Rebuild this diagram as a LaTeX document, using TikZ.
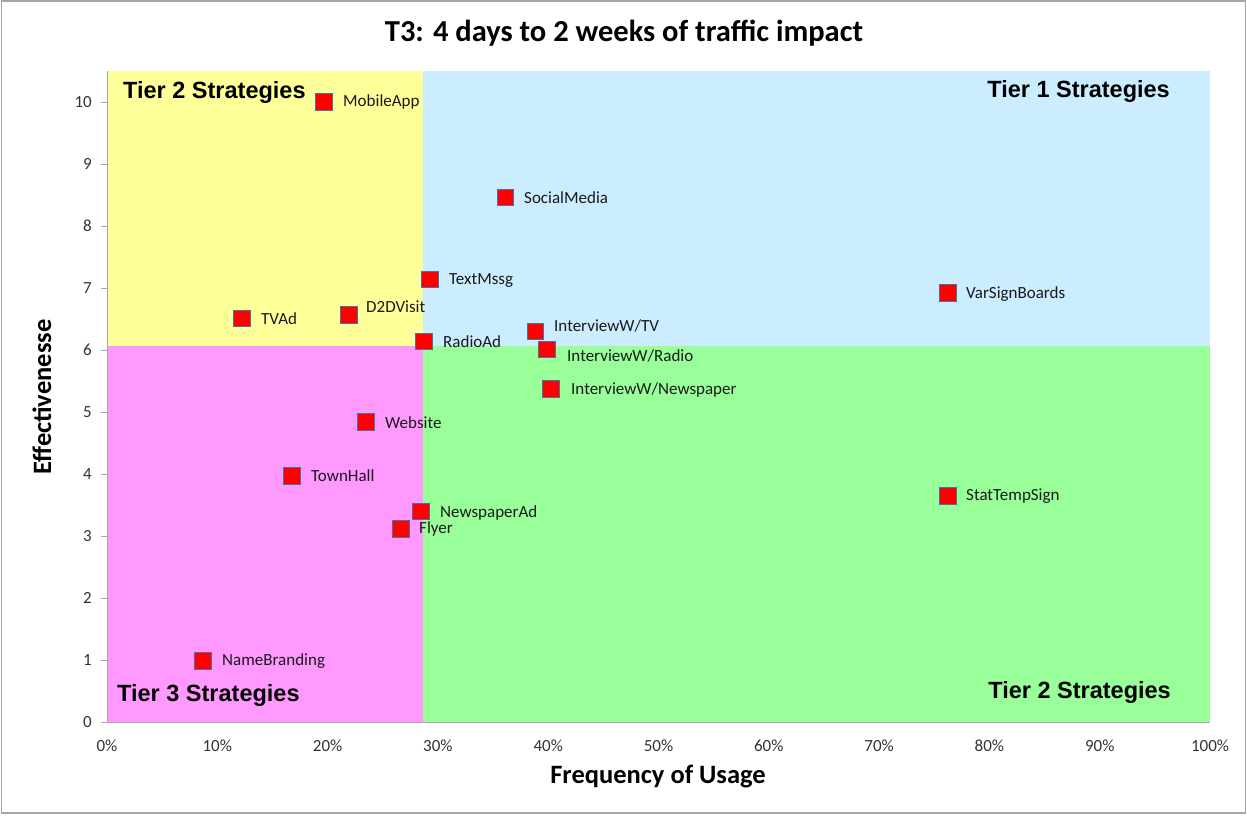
\documentclass[tikz,border=0pt]{standalone}
\usepackage{fontspec}
\setmainfont{Carlito}
\newfontfamily\arialf{Liberation Sans}
\definecolor{tieryellow}{HTML}{FFFF99}
\definecolor{tierblue}{HTML}{CCECFF}
\definecolor{tierpink}{HTML}{FF99FF}
\definecolor{tiergreen}{HTML}{99FF99}
\definecolor{markerblue}{HTML}{4A6FA5}
\definecolor{axisgray}{HTML}{A6A6A6}
\definecolor{ticktext}{HTML}{333333}
\definecolor{labeltext}{HTML}{1A1A1A}
\begin{document}
\begin{tikzpicture}[x=1pt,y=-1pt,
  marker/.style={draw=markerblue, line width=1.4pt, fill=red, minimum size=16.5pt, inner sep=0pt},
  lbl/.style={anchor=west, inner sep=0pt, font=\fontsize{17}{19}\selectfont, text=labeltext},
  tier/.style={inner sep=0pt, font=\arialf\bfseries\fontsize{23.5}{26}\selectfont},
  ytick/.style={anchor=east, inner sep=0pt, font=\fontsize{17}{19}\selectfont, text=ticktext},
  xtick/.style={anchor=center, inner sep=0pt, font=\fontsize{17}{19}\selectfont, text=ticktext},
  axtitle/.style={inner sep=0pt, font=\bfseries\fontsize{26.5}{29}\selectfont, text=black},
  axline/.style={draw=axisgray, line width=1pt}]
\useasboundingbox (0,0) rectangle (1247,815);
\draw[axisgray, line width=1.2pt] (1.5,1) rectangle (1245.5,813);
% quadrants
\fill[tieryellow] (107,71) rectangle (423,346);
\fill[tierblue] (423,71) rectangle (1210,346);
\fill[tierpink] (107,346) rectangle (423,722);
\fill[tiergreen] (423,346) rectangle (1210,722);
% axes
\draw[axline] (107,71) -- (107,722) -- (1210,722);
\foreach \v in {0,...,10} {
  \draw[axline] (101,722-62*\v) -- (107,722-62*\v);
  \node[ytick] (yt\v) at (92,722-62*\v) {\v};
}
\foreach \p in {0,10,...,100} {
  \node[xtick] (xt\p) at (107+11.03*\p,746) {\p\%};
}
% title and axis titles
\node[inner sep=0pt, font=\bfseries\fontsize{30.5}{33}\selectfont] (title) at (624,33) {T3: 4 days to 2 weeks of traffic impact};
\node[axtitle] (xtitle) at (658,777) {Frequency of Usage};
\node[axtitle, rotate=90] (ytitle) at (42,397) {Effectivenesse};
% tier labels
\node[tier, anchor=west] (t2a) at (123,92) {Tier 2 Strategies};
\node[tier, anchor=east] (t1) at (1170,91) {Tier 1 Strategies};
\node[tier, anchor=west] (t3) at (117,695) {Tier 3 Strategies};
\node[tier, anchor=east] (t2b) at (1171,692) {Tier 2 Strategies};
% data markers
\node[marker] (mobile) at (324,102) {};
\node[marker] (social) at (505.5,197.5) {};
\node[marker] (text) at (430,279.5) {};
\node[marker] (varsign) at (948,293) {};
\node[marker] (tvad) at (242,318.5) {};
\node[marker] (d2d) at (349,315) {};
\node[marker] (radioad) at (424,341.5) {};
\node[marker] (iwtv) at (535.5,331.5) {};
\node[marker] (iwradio) at (547,349.5) {};
\node[marker] (iwnews) at (551,389) {};
\node[marker] (website) at (366,422) {};
\node[marker] (townhall) at (292,476) {};
\node[marker] (stattemp) at (948,496) {};
\node[marker] (newsad) at (421,511.5) {};
\node[marker] (flyer) at (401,529) {};
\node[marker] (namebrand) at (203,661) {};
% data labels
\node[lbl] (lmobile) at (343,102) {MobileApp};
\node[lbl] (lsocial) at (524,198) {SocialMedia};
\node[lbl] (ltext) at (449,280) {TextMssg};
\node[lbl] (lvarsign) at (966,294) {VarSignBoards};
\node[lbl] (ltvad) at (261,319) {TVAd};
\node[lbl] (ld2d) at (366,307) {D2DVisit};
\node[lbl] (lradioad) at (443,342) {RadioAd};
\node[lbl] (liwtv) at (554,326) {InterviewW/TV};
\node[lbl] (liwradio) at (567,356) {InterviewW/Radio};
\node[lbl] (liwnews) at (571,390) {InterviewW/Newspaper};
\node[lbl] (lwebsite) at (385,423) {Website};
\node[lbl] (ltownhall) at (311,476) {TownHall};
\node[lbl] (lstattemp) at (966,496) {StatTempSign};
\node[lbl] (lnewsad) at (440,513) {NewspaperAd};
\node[lbl] (lflyer) at (419,529) {Flyer};
\node[lbl] (lnamebrand) at (222,661) {NameBranding};
\end{tikzpicture}
\end{document}
